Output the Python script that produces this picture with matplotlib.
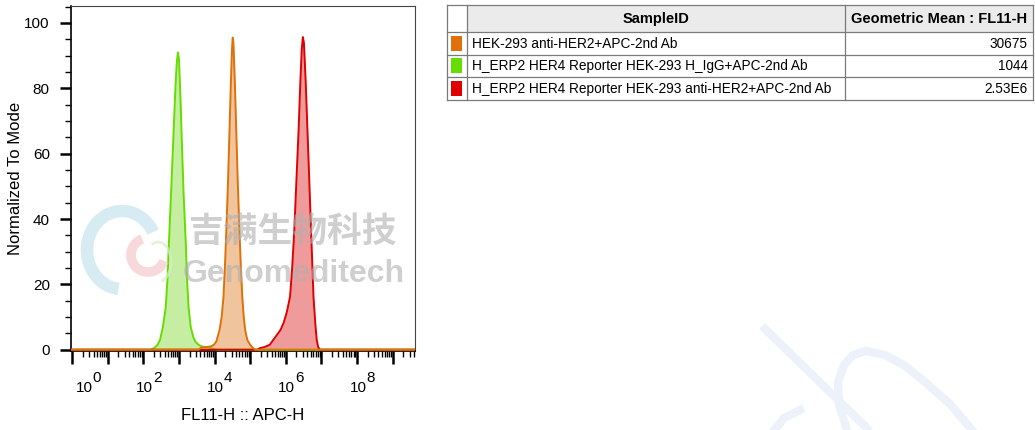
# coding=utf-8
# Histogram overlay (normalized to mode) + sample table
import numpy as np
import matplotlib as mpl
mpl.rcParams['font.family'] = ['Liberation Sans', 'DejaVu Sans']
import matplotlib.pyplot as plt
from matplotlib.patches import Rectangle, Arc
from matplotlib import transforms

# ---- data (x in log10 units of FL11-H, y normalized to mode) ----
green_log = [-0.05, 2.20, 2.30, 2.40, 2.47, 2.55, 2.63, 2.68, 2.72, 2.78, 2.84, 2.90, 2.94, 2.97,
             3.00, 3.04, 3.08, 3.13, 3.19, 3.23, 3.27, 3.33, 3.40, 3.46, 3.55, 3.65, 3.75, 3.85,
             3.95, 4.05, 9.7]
green_val = [0, 0, 0.5, 1.5, 3, 7, 13, 22, 33, 48, 64, 80, 88, 91,
             89, 78, 64, 48, 33, 21, 13, 7, 4, 2.5, 1.5, 1.0, 0.8, 0.6,
             0.3, 0, 0]

orange_log = [-0.05, 3.55, 3.62, 3.75, 3.90, 3.98, 4.05, 4.14, 4.20, 4.25, 4.29, 4.33, 4.38, 4.42,
              4.46, 4.49, 4.51, 4.53, 4.57, 4.61, 4.65, 4.70, 4.74, 4.78, 4.82, 4.86, 4.92, 5.00,
              5.08, 5.15, 9.7]
orange_val = [0, 0, 0.6, 0.8, 1.0, 1.5, 2.5, 6, 10, 16, 25, 36, 52, 67,
              82, 92, 95.5, 94, 82, 67, 52, 36, 25, 16, 10, 6, 3, 1.5,
              0.5, 0, 0]

red_log = [-0.05, 5.20, 5.28, 5.40, 5.55, 5.65, 5.75, 5.85, 5.94, 6.03, 6.12, 6.18, 6.24, 6.30,
           6.36, 6.41, 6.45, 6.48, 6.51, 6.56, 6.61, 6.66, 6.71, 6.75, 6.78, 6.83, 6.87, 6.91,
           6.96, 9.7]
red_val = [0, 0, 0.5, 0.8, 1.5, 3, 4.5, 6, 8.2, 11.5, 16.2, 25, 36.5, 52,
           67, 82, 92, 95.7, 94, 82, 67, 52, 36.5, 25, 16, 8, 3, 0.8,
           0, 0]

sample_ids = ['HEK-293 anti-HER2+APC-2nd Ab',
              'H_ERP2 HER4 Reporter HEK-293 H_IgG+APC-2nd Ab',
              'H_ERP2 HER4 Reporter HEK-293 anti-HER2+APC-2nd Ab']
geo_means = ['30675', '1044', '2.53E6']

line_colors = ['#e07008', '#66dd00', '#e00000']
fill_colors = ['#f0c49c', '#c6eea2', '#ef9b9b']

W, H = 1035, 430
fig = plt.figure(figsize=(W / 100, H / 100), dpi=100)

# background overlay in pixel coords (watermarks + table)
bg = fig.add_axes([0, 0, 1, 1], zorder=0)
bg.set_xlim(0, W)
bg.set_ylim(H, 0)
bg.axis('off')

# faint stroke watermark bottom-right
wm_col = '#edf2fa'
bg.plot([762, 872], [326, 433], color=wm_col, lw=6, solid_capstyle='butt', zorder=0)
arch_x = [848, 839, 838, 844, 853, 866, 885, 905, 925, 950, 972]
arch_y = [433, 405, 382, 365, 355, 351, 355, 366, 382, 404, 430]
bg.plot(arch_x, arch_y, color=wm_col, lw=6, zorder=0)
bg.plot([772, 784, 800], [433, 418, 410], color=wm_col, lw=6, zorder=0)

# ---- table ----
xs = [447, 467, 845, 1033]
ys = [5, 31.5, 54.5, 77, 99.5]
bg.add_patch(Rectangle((xs[1], ys[0]), xs[3] - xs[1], ys[1] - ys[0], facecolor='#ebebeb',
                       edgecolor='none', zorder=1))
for yy in ys:
    bg.plot([xs[0], xs[3]], [yy, yy], color='#7a7a7a', lw=0.9, zorder=2)
for xx in xs:
    bg.plot([xx, xx], [ys[0], ys[-1]], color='#7a7a7a', lw=0.9, zorder=2)
bg.text((xs[1] + xs[2]) / 2, (ys[0] + ys[1]) / 2 + 0.5, 'SampleID', ha='center', va='center',
        fontsize=10.5, fontweight='bold', zorder=3)
bg.text((xs[2] + xs[3]) / 2, (ys[0] + ys[1]) / 2 + 0.5, 'Geometric Mean : FL11-H', ha='center',
        va='center', fontsize=10.5, fontweight='bold', zorder=3)
for i, (sid, gm) in enumerate(zip(sample_ids, geo_means)):
    yc = (ys[i + 1] + ys[i + 2]) / 2
    bg.add_patch(Rectangle((450.5, yc - 7.5), 11, 15, facecolor=line_colors[i],
                           edgecolor='none', zorder=3))
    bg.text(xs[1] + 5, yc + 0.5, sid, ha='left', va='center', fontsize=9.8, zorder=3)
    bg.text(xs[3] - 5, yc + 0.5, gm, ha='right', va='center', fontsize=9.8, zorder=3)

# ---- histogram axes ----
ax = fig.add_axes([70.7 / W, 1 - 351 / H, (415 - 70.7) / W, (351 - 6) / H], zorder=2)
ax.patch.set_alpha(0)

series = [(green_log, green_val, 1), (red_log, red_val, 2), (orange_log, orange_val, 0)]
for lg, vals, c in series:
    x = np.power(10.0, lg)
    ax.fill_between(x, 0, vals, color=fill_colors[c], lw=0, zorder=2)
    ax.plot(x, vals, color=line_colors[c], lw=1.4, zorder=3)

ax.set_xscale('log')
ax.set_yticks(np.arange(0, 101, 20))
ax.set_yticks(np.arange(0, 106, 5), minor=True)
ax.tick_params(axis='y', which='major', length=8, width=1.8, pad=7, labelsize=11)
ax.tick_params(axis='y', which='minor', length=4, width=1)

ax.set_xticks([10.0 ** k for k in range(0, 10)])
ax.set_xticks([m * 10.0 ** k for k in range(0, 10) for m in range(2, 10)], minor=True)
ax.tick_params(axis='x', which='major', length=9, width=1.8, labelbottom=False)
ax.tick_params(axis='x', which='minor', length=4, width=1)

# limits after ticks (set_xticks may widen the view)
ax.set_xlim(10 ** -0.04, 10 ** 9.63)
ax.set_ylim(-0.4, 105.2)

for sp in ['left', 'bottom']:
    ax.spines[sp].set_linewidth(1.2)
for sp in ['top', 'right']:
    ax.spines[sp].set_linewidth(0.8)
    ax.spines[sp].set_color('#444444')

# x tick labels "10" with superscript exponent
tick_exps = [0, 2, 4, 6, 8]
blend = transforms.blended_transform_factory(ax.transData, ax.transAxes)
for k in tick_exps:
    shift = 12 if k == 0 else 1
    base = transforms.offset_copy(blend, fig=fig, x=shift, y=0, units='dots')
    ax.text(10.0 ** k, -0.107, '10', transform=base, ha='center', va='center', fontsize=11)
    sup = transforms.offset_copy(blend, fig=fig, x=shift + 8.5, y=0, units='dots')
    ax.text(10.0 ** k, -0.077, str(k), transform=sup, ha='left', va='center', fontsize=11)

ax.set_xlabel('FL11-H :: APC-H', fontsize=12, va='center')
ax.xaxis.set_label_coords(0.5, -0.186)
ax.set_ylabel('Normalized To Mode', fontsize=12, va='center')
ax.yaxis.set_label_coords(-0.161, 0.5)

# ---- company watermark over plot ----
wm = fig.add_axes([0, 0, 1, 1], zorder=3)
wm.set_xlim(0, W)
wm.set_ylim(H, 0)
wm.axis('off')
wm.add_patch(Arc((122, 250), 70, 78, theta1=95, theta2=330, lw=9, color='#cde6f0', alpha=0.8))
wm.add_patch(Arc((148, 255), 34, 34, theta1=20, theta2=250, lw=7, color='#f6c9cc', alpha=0.7))
wm.add_patch(Arc((158, 262), 26, 40, theta1=250, theta2=80, lw=2, color='#d8eccf', alpha=0.7))
wm.text(293, 231, '吉满生物科技', ha='center', va='center', fontsize=25, fontweight='bold',
        color='#b0b0b0', alpha=0.6, family=['Noto Sans CJK SC', 'DejaVu Sans'])
wm.text(294, 274, 'Genomeditech', ha='center', va='center', fontsize=23, fontweight='bold',
        color='#b0b0b0', alpha=0.6)

fig.savefig('out.png', dpi=100)
plt.close()
